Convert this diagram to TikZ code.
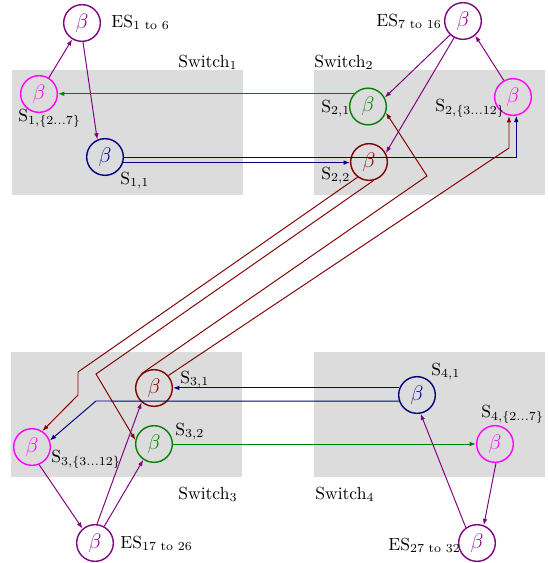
\documentclass[tikz,border=0pt]{standalone}
\usepackage{amsmath}
\usetikzlibrary{arrows.meta}
\definecolor{esc}{RGB}{128,0,128}
\definecolor{mag}{RGB}{255,0,255}
\definecolor{grn}{RGB}{0,128,0}
\definecolor{nav}{RGB}{0,0,128}
\definecolor{mar}{RGB}{128,0,0}
\definecolor{boxgray}{RGB}{220,220,220}
\tikzset{
  port/.style={circle, draw, line width=0.8pt, minimum size=20.9pt, inner sep=0pt, font=\large},
  switchbox/.style={fill=boxgray, draw=none},
  lbl/.style={anchor=base west, inner sep=0pt},
  link/.style={line width=0.55pt, -{Latex[length=3.6pt,width=2.6pt]}},
}
\begin{document}
\begin{tikzpicture}[x=0.57pt, y=-0.57pt]
\useasboundingbox (0,0) rectangle (548,563);

% switch areas
\fill[switchbox] (12,70) rectangle (243,195);
\fill[switchbox] (314,70) rectangle (545,195);
\fill[switchbox] (11,352) rectangle (242,477);
\fill[switchbox] (314,352) rectangle (545,477);

% ports and end systems
\node[port, draw=esc, text=esc] (es1) at (82,23) {$\beta$};
\node[port, draw=mag, text=mag] (s12) at (39,94) {$\beta$};
\node[port, draw=nav, text=nav] (s11) at (105,157) {$\beta$};

\node[port, draw=esc, text=esc] (es7) at (463,21) {$\beta$};
\node[port, draw=grn, text=grn] (s21) at (368,106.5) {$\beta$};
\node[port, draw=mar, text=mar] (s22) at (369,162) {$\beta$};
\node[port, draw=mag, text=mag] (s2x) at (513,97) {$\beta$};

\node[port, draw=mar, text=mar] (s31) at (154,388) {$\beta$};
\node[port, draw=grn, text=grn] (s32) at (154,444) {$\beta$};
\node[port, draw=mag, text=mag] (s3x) at (32,447) {$\beta$};
\node[port, draw=esc, text=esc] (es17) at (95,543) {$\beta$};

\node[port, draw=nav, text=nav] (s41) at (417,395) {$\beta$};
\node[port, draw=mag, text=mag] (s4x) at (495,444) {$\beta$};
\node[port, draw=esc, text=esc] (es27) at (477,543) {$\beta$};

% labels
\node[lbl] (les1) at (111,27) {ES$_{\text{1 to 6}}$};
\node[lbl] (lsw1) at (178,67) {Switch$_1$};
\node[lbl] (ls12) at (18,121) {S$_{1,\{2\ldots7\}}$};
\node[lbl] (ls11) at (120,184) {S$_{1,1}$};

\node[lbl] (les7) at (376,26) {ES$_{\text{7 to 16}}$};
\node[lbl] (lsw2) at (314,67) {Switch$_2$};
\node[lbl] (ls21) at (321,112) {S$_{2,1}$};
\node[lbl] (ls22) at (321,179) {S$_{2,2}$};
\node[lbl] (ls2x) at (435,111) {S$_{2,\{3\ldots12\}}$};

\node[lbl] (ls31) at (180,383) {S$_{3,1}$};
\node[lbl] (ls32) at (175,435) {S$_{3,2}$};
\node[lbl] (ls3x) at (51,462) {S$_{3,\{3\ldots12\}}$};
\node[lbl] (lsw3) at (178,499) {Switch$_3$};
\node[lbl] (les17) at (120,548) {ES$_{\text{17 to 26}}$};

\node[lbl] (lsw4) at (315,499) {Switch$_4$};
\node[lbl] (ls41) at (431,375) {S$_{4,1}$};
\node[lbl] (ls4x) at (481,417) {S$_{4,\{2\ldots7\}}$};
\node[lbl] (les27) at (388,550) {ES$_{\text{27 to 32}}$};

% bend points of the long links
\coordinate (ka1) at (78,372);
\coordinate (ka2) at (78,395);
\coordinate (kb) at (96,374);
\coordinate (kc) at (427,176);
\coordinate (kd) at (509,148);
\coordinate (ke) at (96,401);

% end system links
\draw[link, esc] (s12) -- (es1);
\draw[link, esc] (es1.273) -- (s11.114);
\draw[link, esc] (es7.227) -- (s21.28);
\draw[link, esc] (es7.242) -- (s22.28);
\draw[link, esc] (s2x.119) -- (es7.310);
\draw[link, esc] (s3x.292) -- (es17.131);
\draw[link, esc] (es17.84) -- (s31.229);
\draw[link, esc] (es17.61) -- (s32.236);
\draw[link, esc] (s4x.273) -- (es27.69);
\draw[link, esc] (es27.126) -- (s41.281);

% green links
\draw[link, grn] (s21.138) -- (s21.138 -| s12.east);
\draw[link, grn] (s32.east) -- (s4x.west);

% blue links
\draw[link, nav] (s11.east) -| (s2x.280);
\draw[link, nav] (s11.-17) -- (s11.-17 -| s22.west);
\draw[link, nav] (s41.158) -- (s41.158 -| s31.east);
\draw[link, nav] (s41.199) -- (ke) -- (s3x.20);

% red links
\draw[link, mar] (s22.233) -- (ka1) -- (ka2) -- (s3x.57);
\draw[link, mar] (s22.284) -- (kb) -- (s32.168);
\draw[link, mar] (s31.131) -- (kc) -- (s21.341);
\draw[link, mar] (s31.41) -- (kd) -- (kd |- s2x.south);
\end{tikzpicture}
\end{document}
